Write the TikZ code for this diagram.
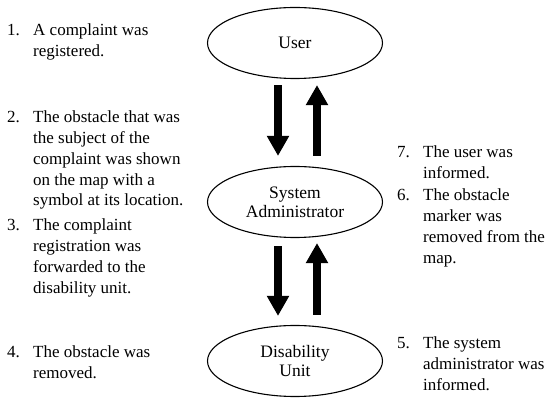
\documentclass[tikz,border=0pt]{standalone}
\usepackage{fontspec}
\setmainfont{Liberation Serif}
\usetikzlibrary{arrows.meta,shapes.geometric,calc}
\newcommand{\itemlines}[1]{\begin{tabular}[t]{@{}l@{}}#1\end{tabular}}
\begin{document}
\begin{tikzpicture}[x=1pt,y=-1pt,
  actor/.style={draw,ellipse,line width=1.1pt,minimum width=175pt,minimum height=71pt,inner sep=0pt,align=center,font=\fontsize{17.5}{19}\selectfont},
  flow/.style={line width=8pt,-{Triangle[length=20pt,width=21pt]}},
  num/.style={anchor=base west,inner sep=0pt,font=\fontsize{17}{20.7}\selectfont},
  item/.style={anchor=base west,inner sep=0pt,font=\fontsize{17}{20.7}\selectfont}]
\useasboundingbox (0,0) rectangle (550,403);
\node[actor] (user) at (295,43) {User};
\node[actor] (admin) at (295,202) {System\\Administrator};
\node[actor] (dis) at (295,361) {Disability\\Unit};
\draw[flow] ([xshift=-17pt,yshift=-6pt]user.south) -- ([xshift=-17pt,yshift=10pt]admin.north);
\draw[flow] ([xshift=22pt,yshift=10pt]admin.north) -- ([xshift=22pt,yshift=-6pt]user.south);
\draw[flow] ([xshift=-17pt,yshift=-8pt]admin.south) -- ([xshift=-17pt,yshift=9pt]dis.north);
\draw[flow] ([xshift=22pt,yshift=10pt]dis.north) -- ([xshift=22pt,yshift=-5pt]admin.south);
% left items
\node[num] (n1) at (7,36) {1.};
\node[item] (t1) at (33,36) {\itemlines{A complaint was\\registered.}};
\node[num] (n2) at (7,123) {2.};
\node[item] (t2) at (33,123) {\itemlines{The obstacle that was\\the subject of the\\complaint was shown\\on the map with a\\symbol at its location.}};
\node[num] (n3) at (7,231) {3.};
\node[item] (t3) at (33,231) {\itemlines{The complaint\\registration was\\forwarded to the\\disability unit.}};
\node[num] (n4) at (7,358) {4.};
\node[item] (t4) at (33,358) {\itemlines{The obstacle was\\removed.}};
% right items
\node[num] (n7) at (397,158) {7.};
\node[item] (t7) at (423,158) {\itemlines{The user was\\informed.}};
\node[num] (n6) at (397,201) {6.};
\node[item] (t6) at (423,201) {\itemlines{The obstacle\\marker was\\removed from the\\map.}};
\node[num] (n5) at (397,349) {5.};
\node[item] (t5) at (423,349) {\itemlines{The system\\administrator was\\informed.}};
\end{tikzpicture}
\end{document}
